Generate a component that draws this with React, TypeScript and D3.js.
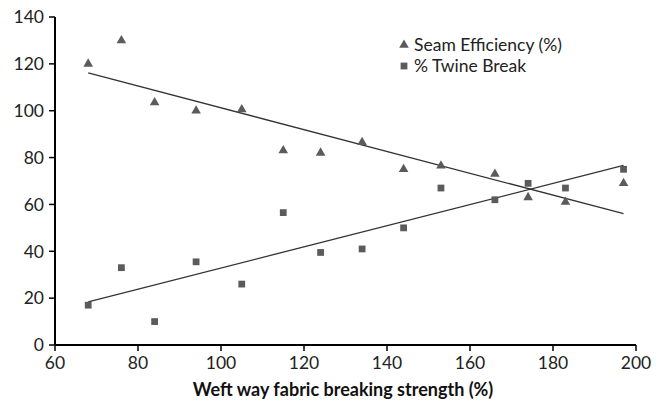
import React from "react";
import * as d3 from "d3";

// values
const strength = [68, 76, 84, 94, 105, 115, 124, 134, 144, 153, 166, 174, 183, 197];
const seamEfficiency = [120, 130, 103.5, 100, 100.5, 83, 82, 86.5, 75, 76.5, 73, 63, 61, 69];
const twineBreak = [17, 33, 10, 35.5, 26, 56.5, 39.5, 41, 50, 67, 62, 69, 67, 75];
const xTicks = [60, 80, 100, 120, 140, 160, 180, 200];
const yTicks = [0, 20, 40, 60, 80, 100, 120, 140];

const W = 659;
const H = 404;
const margin = { top: 17, right: 23, bottom: 59, left: 55 };
const font = "Lato, 'Open Sans', sans-serif";
const markColor = "#5b5b5b";

// least squares fit for the trend lines
function fit(xs: number[], ys: number[]) {
  const mx = d3.mean(xs) as number;
  const my = d3.mean(ys) as number;
  let num = 0;
  let den = 0;
  xs.forEach((x, i) => {
    num += (x - mx) * (ys[i] - my);
    den += (x - mx) * (x - mx);
  });
  const slope = num / den;
  return (x: number) => my + slope * (x - mx);
}

const App: React.FC = () => {
  const x = d3.scaleLinear().domain([60, 200]).range([margin.left, W - margin.right]);
  const y = d3.scaleLinear().domain([0, 140]).range([H - margin.bottom, margin.top]);

  const x0 = d3.min(strength) as number;
  const x1 = d3.max(strength) as number;
  const seamFit = fit(strength, seamEfficiency);
  const twineFit = fit(strength, twineBreak);

  const tri = d3.symbol().type(d3.symbolTriangle).size(40)() as string;
  const sq = d3.symbol().type(d3.symbolSquare).size(46)() as string;

  return (
    <svg width={W} height={H} style={{ position: "absolute", left: 0, top: 0 }}>
      <rect width={W} height={H} fill="#fff" />

      {/* trend lines */}
      <line
        x1={x(x0)}
        y1={y(seamFit(x0))}
        x2={x(x1)}
        y2={y(seamFit(x1))}
        stroke="#333"
        strokeWidth={1.3}
      />
      <line
        x1={x(x0)}
        y1={y(twineFit(x0))}
        x2={x(x1)}
        y2={y(twineFit(x1))}
        stroke="#333"
        strokeWidth={1.3}
      />

      {/* markers */}
      {strength.map((s, i) => (
        <path key={"t" + i} d={tri} transform={`translate(${x(s)},${y(seamEfficiency[i])})`} fill={markColor} />
      ))}
      {strength.map((s, i) => (
        <path key={"s" + i} d={sq} transform={`translate(${x(s)},${y(twineBreak[i])})`} fill={markColor} />
      ))}

      {/* y axis */}
      <line x1={x(60)} x2={x(60)} y1={y(0)} y2={y(140)} stroke="#000" strokeWidth={2} />
      {yTicks.map((t) => (
        <g key={"y" + t}>
          <line x1={x(60) - 6} x2={x(60)} y1={y(t)} y2={y(t)} stroke="#000" strokeWidth={1.5} />
          <text x={x(60) - 11} y={y(t)} dy="0.36em" textAnchor="end" fontFamily={font} fontSize={17.5} fill="#222">
            {t}
          </text>
        </g>
      ))}

      {/* x axis */}
      <line x1={x(60)} x2={x(200)} y1={y(0)} y2={y(0)} stroke="#000" strokeWidth={2} />
      {xTicks.map((t) => (
        <g key={"x" + t}>
          <line x1={x(t)} x2={x(t)} y1={y(0)} y2={y(0) + 6} stroke="#000" strokeWidth={1.5} />
          <text x={x(t)} y={y(0) + 24} textAnchor="middle" fontFamily={font} fontSize={17.5} fill="#222">
            {t}
          </text>
        </g>
      ))}
      <text
        x={343}
        y={396}
        textAnchor="middle"
        fontFamily={font}
        fontSize={18}
        fontWeight="bold"
        fill="#111"
      >
        Weft way fabric breaking strength (%)
      </text>

      {/* legend */}
      <path d={tri} transform="translate(404,45)" fill={markColor} />
      <text x={414} y={51} fontFamily={font} fontSize={17.5} fill="#222">
        Seam Efficiency (%)
      </text>
      <path d={sq} transform="translate(404,66)" fill={markColor} />
      <text x={414} y={72} fontFamily={font} fontSize={17.5} fill="#222">
        % Twine Break
      </text>
    </svg>
  );
};

export default App;
